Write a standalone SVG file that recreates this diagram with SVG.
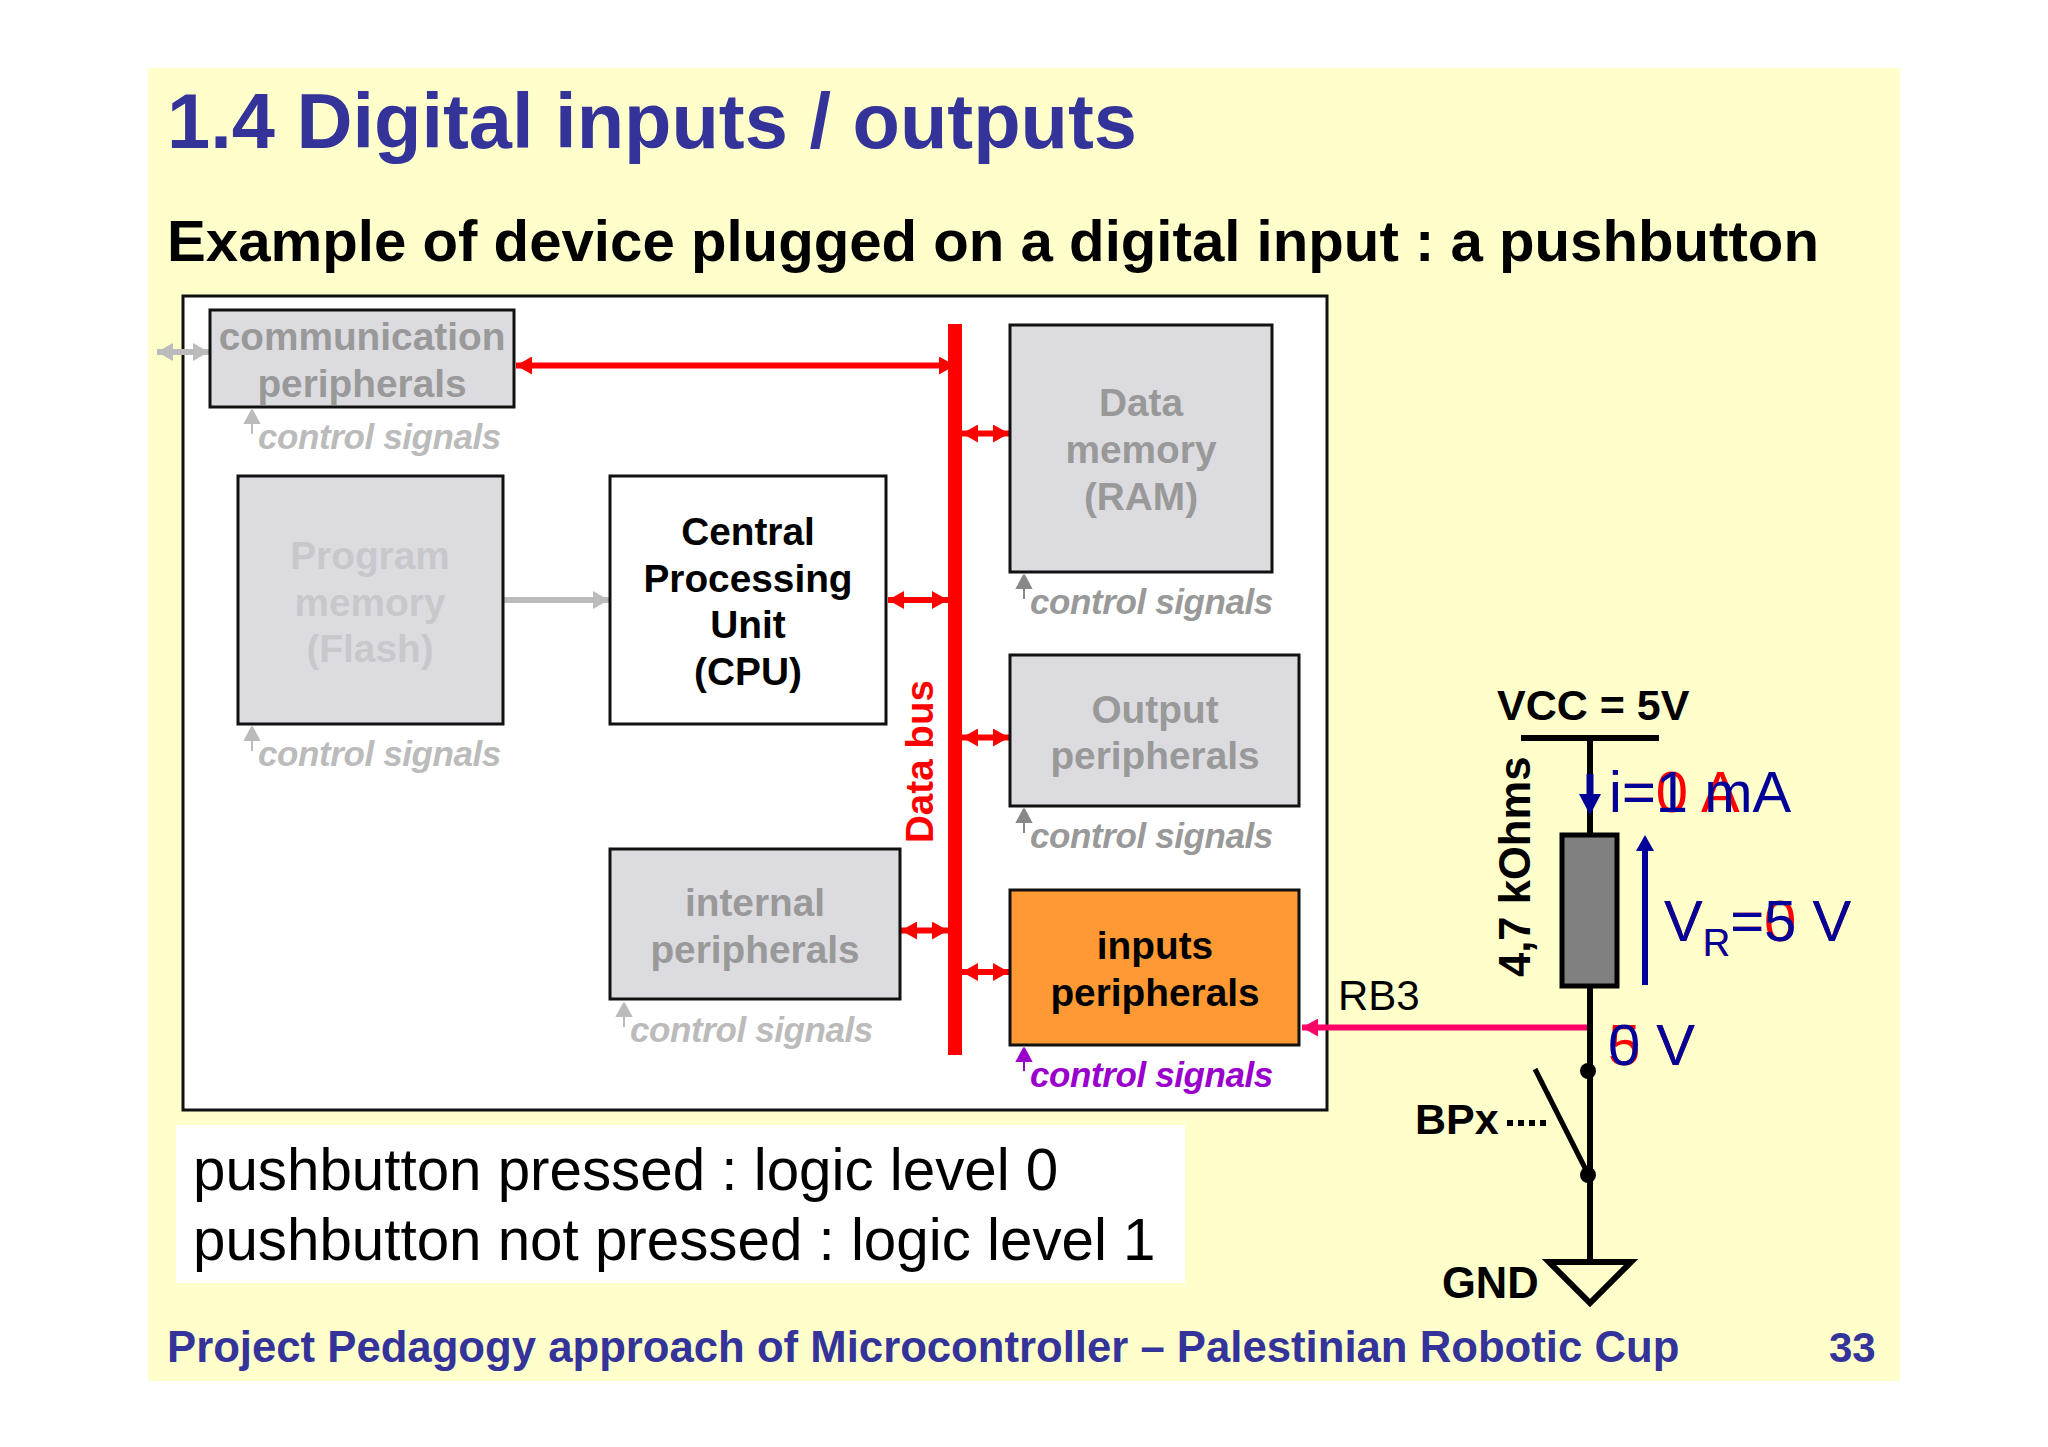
<svg xmlns="http://www.w3.org/2000/svg" width="2048" height="1447" viewBox="0 0 2048 1447">
<style>
text{font-family:"Liberation Sans",Arial,sans-serif}
.b{font-weight:700}
.m{text-anchor:middle;font-weight:700;font-size:38.8px}
.box{stroke:#111;stroke-width:3}
.g{fill:#dcdce0}
.cs{font-size:35px;font-weight:700;font-style:italic;letter-spacing:-.4px}
.red{fill:#f00}
.blue{fill:#009}
.v{font-size:58px}
.wire{stroke:#000;stroke-width:6;fill:none}
</style>
<defs>
<marker id="rh" markerUnits="userSpaceOnUse" markerWidth="17" markerHeight="18" refX="16" refY="9" orient="auto-start-reverse"><path d="M0 0L16 9L0 18z" fill="#f00"/></marker>
<marker id="gh" markerUnits="userSpaceOnUse" markerWidth="17" markerHeight="18" refX="16" refY="9" orient="auto-start-reverse"><path d="M0 0L16 9L0 18z" fill="#bbb"/></marker>
<marker id="ph" markerUnits="userSpaceOnUse" markerWidth="17" markerHeight="18" refX="16" refY="9" orient="auto"><path d="M0 0L16 9L0 18z" fill="#f06"/></marker>
</defs>
<rect width="2048" height="1447" fill="#fff"/>
<rect x="148" y="68" width="1752" height="1313" fill="#ffc"/>
<text id="title" class="b" x="167" y="148" font-size="77.6" fill="#339">1.4 Digital inputs / outputs</text>
<text id="subtitle" class="b" x="167" y="261" font-size="58.2">Example of device plugged on a digital input : a pushbutton</text>
<rect id="mcu" x="183" y="296" width="1144" height="814" fill="#fff" stroke="#111" stroke-width="3"/>
<g id="connectors" fill="none">
<path d="M157 352H209" stroke="#bbb" stroke-width="6" marker-start="url(#gh)" marker-end="url(#gh)"/>
<path d="M516 365.500H955" stroke="#f00" stroke-width="6" marker-start="url(#rh)" marker-end="url(#rh)"/>
<path d="M962 433.500H1009" stroke="#f00" stroke-width="6" marker-start="url(#rh)" marker-end="url(#rh)"/>
<path d="M888 600H948" stroke="#f00" stroke-width="6" marker-start="url(#rh)" marker-end="url(#rh)"/>
<path d="M962 737.500H1009" stroke="#f00" stroke-width="6" marker-start="url(#rh)" marker-end="url(#rh)"/>
<path d="M901 930.500H948" stroke="#f00" stroke-width="6" marker-start="url(#rh)" marker-end="url(#rh)"/>
<path d="M962 972H1009" stroke="#f00" stroke-width="6" marker-start="url(#rh)" marker-end="url(#rh)"/>
<path d="M504 600H609" stroke="#bbb" stroke-width="6" marker-end="url(#gh)"/>
<path d="M1587 1027.500H1302" stroke="#f06" stroke-width="6" marker-end="url(#ph)"/>
</g>
<g id="bus"><rect x="948" y="324" width="14" height="731" fill="#f00"/><text class="b" transform="translate(933 843) rotate(-90)" font-size="38.6" fill="#f00">Data bus</text></g>
<g id="comm"><rect class="box g" x="210" y="310" width="304" height="97"/><text class="m" x="362" y="350" fill="#999">communication</text><text class="m" x="362" y="397" fill="#999">peripherals</text></g>
<g id="comm-cs"><path d="M252 434V410l-7 13h14l-7-13z" fill="#bbb" stroke="#bbb" stroke-width="2"/><text class="cs" x="258" y="449" fill="#bbb">control signals</text></g>
<g id="flash"><rect class="box g" x="238" y="476" width="265" height="248"/><g fill="#c8c8cc"><text class="m" x="370" y="569">Program</text><text class="m" x="370" y="616">memory</text><text class="m" x="370" y="662">(Flash)</text></g></g>
<g id="flash-cs"><path d="M252 751V727l-7 13h14l-7-13z" fill="#bbb" stroke="#bbb" stroke-width="2"/><text class="cs" x="258" y="766" fill="#bbb">control signals</text></g>
<g id="cpu"><rect class="box" fill="#fff" x="610" y="476" width="276" height="248"/><text class="m" x="748" y="545">Central</text><text class="m" x="748" y="592">Processing</text><text class="m" x="748" y="638">Unit</text><text class="m" x="748" y="685">(CPU)</text></g>
<g id="ram"><rect class="box g" x="1010" y="325" width="262" height="247"/><g fill="#999"><text class="m" x="1141" y="416">Data</text><text class="m" x="1141" y="463">memory</text><text class="m" x="1141" y="510">(RAM)</text></g></g>
<g id="ram-cs"><path d="M1024 599V575l-7 13h14l-7-13z" fill="#888" stroke="#888" stroke-width="2"/><text class="cs" x="1030" y="614" fill="#999">control signals</text></g>
<g id="output"><rect class="box g" x="1010" y="655" width="289" height="151"/><g fill="#999"><text class="m" x="1155" y="723">Output</text><text class="m" x="1155" y="769">peripherals</text></g></g>
<g id="output-cs"><path d="M1024 833V809l-7 13h14l-7-13z" fill="#888" stroke="#888" stroke-width="2"/><text class="cs" x="1030" y="848" fill="#999">control signals</text></g>
<g id="internal"><rect class="box g" x="610" y="849" width="290" height="150"/><g fill="#999"><text class="m" x="755" y="916">internal</text><text class="m" x="755" y="963">peripherals</text></g></g>
<g id="internal-cs"><path d="M624 1027V1003l-7 13h14l-7-13z" fill="#bbb" stroke="#bbb" stroke-width="2"/><text class="cs" x="630" y="1042" fill="#bbb">control signals</text></g>
<g id="inputs"><rect class="box" fill="#f93" x="1010" y="890" width="289" height="155"/><text class="m" x="1155" y="959">inputs</text><text class="m" x="1155" y="1006">peripherals</text></g>
<g id="inputs-cs"><path d="M1024 1071V1048l-7 13h14l-7-13z" fill="#90c" stroke="#90c" stroke-width="2"/><text class="cs" x="1030" y="1087" fill="#90c">control signals</text></g>
<g id="note"><rect x="176" y="1125" width="1009" height="158" fill="#fff"/><text x="193" y="1190" font-size="58.3">pushbutton pressed : logic level 0</text><text x="193" y="1260" font-size="58.3">pushbutton not pressed : logic level 1</text></g>
<text id="rb3" x="1338" y="1010" font-size="42">RB3</text>
<g id="circuit">
<path class="wire" d="M1521 738H1659"/>
<path class="wire" d="M1590 738V1260"/>
<rect x="1562" y="835" width="55" height="151" fill="#808080" stroke="#000" stroke-width="5"/>
<circle cx="1588" cy="1071" r="8"/><circle cx="1588" cy="1175" r="8"/>
<path d="M1535 1069L1587 1172" stroke="#000" stroke-width="5" fill="none"/>
<path d="M1507 1123H1546" stroke="#000" stroke-width="6" stroke-dasharray="6 5" fill="none"/>
<path d="M1549 1262H1631L1590 1303z" stroke="#000" stroke-width="6" fill="none"/>
<path d="M1590 774V796" stroke="#009" stroke-width="7"/><path d="M1579 794H1601L1590 815z" fill="#009"/>
<path d="M1645 985V848" stroke="#009" stroke-width="6"/><path d="M1636 851H1654L1645 835z" fill="#009"/>
</g>
<text id="vcc" class="b" x="1497" y="720" font-size="43">VCC = 5V</text>
<text id="ohms" class="b" transform="translate(1530 977) rotate(-90)" font-size="43.6">4,7 kOhms</text>
<text id="bpx" class="b" x="1415" y="1134" font-size="43">BPx</text>
<text id="gnd" class="b" x="1442" y="1298" font-size="43.500">GND</text>
<g id="val-red" class="v red"><text x="1609" y="812">i=0 A</text><text x="1664" y="941">V<tspan font-size="38" dy="15">R</tspan><tspan dy="-15">=0 V</tspan></text><text x="1608" y="1065">5 V</text></g>
<g id="val-blue" class="v blue"><text x="1609" y="812">i=1 mA</text><text x="1664" y="941">V<tspan font-size="38" dy="15">R</tspan><tspan dy="-15">=5 V</tspan></text><text x="1608" y="1065">0 V</text></g>
<text id="footer" class="b" x="167" y="1362" font-size="43.700" fill="#339">Project Pedagogy approach of Microcontroller – Palestinian Robotic Cup</text>
<text id="page" class="b" x="1829" y="1362" font-size="42" fill="#339">33</text>
</svg>
